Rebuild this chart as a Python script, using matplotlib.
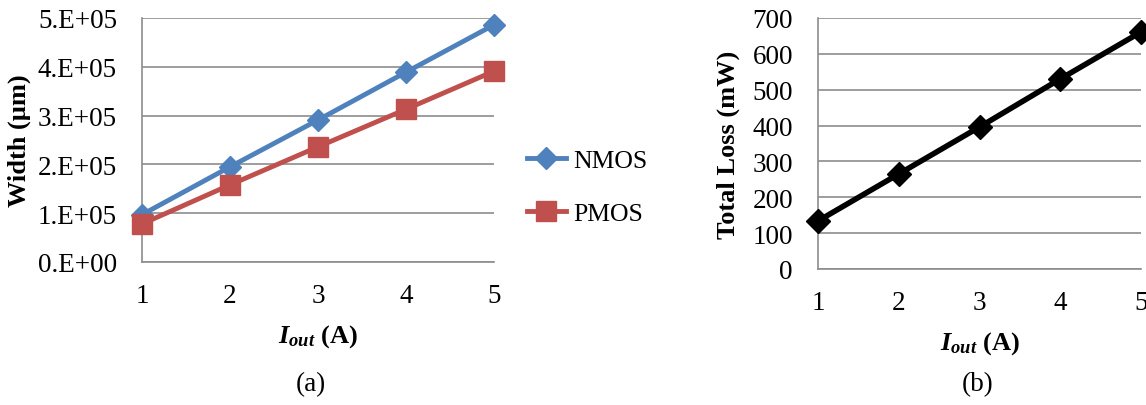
import matplotlib
matplotlib.use("Agg")
import matplotlib.pyplot as plt
from matplotlib.ticker import FuncFormatter, MultipleLocator

plt.rcParams['font.family'] = ['Liberation Serif', 'DejaVu Serif']
plt.rcParams['mathtext.fontset'] = 'custom'
plt.rcParams['mathtext.rm'] = 'Liberation Serif'
plt.rcParams['mathtext.it'] = 'Liberation Serif:italic:bold'
plt.rcParams['mathtext.bf'] = 'Liberation Serif:bold'

# Output current (A)
iout = [1, 2, 3, 4, 5]
# Transistor widths (um)
nmos_width = [0.97e5, 1.95e5, 2.91e5, 3.89e5, 4.86e5]
pmos_width = [0.78e5, 1.58e5, 2.36e5, 3.13e5, 3.91e5]
# Total loss (mW)
total_loss = [134, 265, 396, 530, 661]

W, H = 1146, 406
fig = plt.figure(figsize=(W / 100, H / 100), dpi=100)

GRID = '#8c8c8c'
FS = 19.5
LFS = 19
xlabel = r'$I_{out}$ (A)'


def style(ax):
    ax.set_xlim(1, 5)
    ax.xaxis.set_major_locator(MultipleLocator(1))
    ax.grid(axis='y', color=GRID, linewidth=1.2)
    ax.set_axisbelow(True)
    for s in ('top', 'right'):
        ax.spines[s].set_visible(False)
    for s in ('left', 'bottom'):
        ax.spines[s].set_color(GRID)
        ax.spines[s].set_linewidth(1.2)
    ax.tick_params(axis='both', length=0, labelsize=FS)
    ax.tick_params(axis='y', pad=18)
    ax.tick_params(axis='x', pad=15)


# (a) widths
ax1 = fig.add_axes([142 / W, 1 - 263 / H, (494 - 142) / W, (263 - 19) / H])
style(ax1)
ax1.set_ylim(0, 5e5)
ax1.yaxis.set_major_locator(MultipleLocator(1e5))
ax1.yaxis.set_major_formatter(FuncFormatter(
    lambda v, p: "0.E+00" if v == 0 else f"{v / 1e5:.0f}.E+05"))
ax1.plot(iout, nmos_width, color='#4F81BD', linewidth=3.5, marker='D',
         markersize=11, label='NMOS', clip_on=False, zorder=3)
ax1.plot(iout, pmos_width, color='#C0504D', linewidth=3.5, marker='s',
         markersize=15, label='PMOS', clip_on=False, zorder=4)
ax1.set_ylabel('Width (µm)', fontsize=LFS, fontweight='bold', labelpad=5)
ax1.set_xlabel(xlabel, fontsize=LFS, fontweight='bold', labelpad=10)
ax1.legend(loc='center left', bbox_to_anchor=(527 / W, 1 - 188 / H),
           bbox_transform=fig.transFigure, frameon=False, fontsize=18.5,
           handlelength=1.5, handletextpad=0.3, labelspacing=1.2,
           borderaxespad=0, borderpad=0)
fig.text(311 / W, 1 - 385 / H, '(a)', ha='center', va='center', fontsize=FS)

# (b) total loss
ax2 = fig.add_axes([818 / W, 1 - 270 / H, (1141 - 818) / W, (270 - 19) / H])
style(ax2)
ax2.set_ylim(0, 700)
ax2.yaxis.set_major_locator(MultipleLocator(100))
ax2.plot(iout, total_loss, color='black', linewidth=4, marker='D',
         markersize=12, clip_on=False, zorder=3)
ax2.set_ylabel('Total Loss (mW)', fontsize=LFS, fontweight='bold', labelpad=9)
ax2.set_xlabel(xlabel, fontsize=LFS, fontweight='bold', labelpad=10)
fig.text(978 / W, 1 - 385 / H, '(b)', ha='center', va='center', fontsize=FS)

fig.savefig('out.png', dpi=100, facecolor='white')
